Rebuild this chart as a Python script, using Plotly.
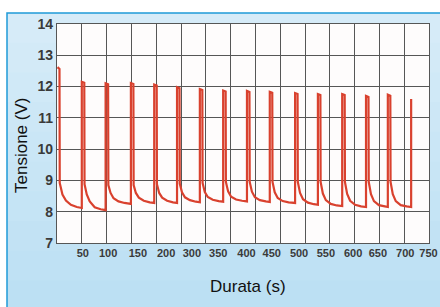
import plotly.graph_objects as go

# ---- data ----
time_s = [
    1, 5, 5.5, 11, 18, 28, 40,
    50, 50, 55, 55.5, 60, 66, 76, 88,
    98, 98, 103, 103.5, 108, 114, 124, 136,
    149, 149, 154, 154.5, 159, 165, 175, 187,
    196, 196, 201, 201.5, 206, 212, 222, 234,
    242, 242, 247, 247.5, 252, 258, 268, 280,
    288, 288, 293, 293.5, 298, 304, 314, 326,
    335, 335, 340, 340.5, 345, 351, 361, 373,
    383, 383, 388, 388.5, 393, 399, 409, 421,
    429, 429, 434, 434.5, 439, 445, 455, 467,
    480, 480, 485, 485.5, 490, 496, 506, 518,
    526, 526, 531, 531.5, 536, 542, 552, 564,
    575, 575, 580, 580.5, 585, 591, 601, 613,
    623, 623, 628, 628.5, 633, 639, 649, 661,
    667, 667, 672, 672.5, 677, 683, 693, 705,
    714, 714,
]
voltage_v = [
    12.62, 12.56, 8.92, 8.55, 8.36, 8.22, 8.15,
    8.12, 12.15, 12.12, 8.88, 8.55, 8.33, 8.14, 8.08,
    8.05, 12.10, 12.07, 8.85, 8.60, 8.43, 8.33, 8.28,
    8.25, 12.11, 12.08, 8.85, 8.60, 8.45, 8.35, 8.30,
    8.28, 12.06, 12.03, 8.88, 8.60, 8.45, 8.35, 8.30,
    8.28, 11.98, 11.95, 8.90, 8.62, 8.46, 8.37, 8.32,
    8.30, 11.92, 11.89, 8.92, 8.63, 8.47, 8.38, 8.34,
    8.32, 11.87, 11.84, 8.95, 8.65, 8.48, 8.39, 8.35,
    8.33, 11.86, 11.83, 8.95, 8.64, 8.46, 8.37, 8.33,
    8.31, 11.83, 11.80, 8.95, 8.62, 8.44, 8.34, 8.30,
    8.28, 11.79, 11.76, 8.95, 8.60, 8.40, 8.29, 8.24,
    8.22, 11.76, 11.73, 8.95, 8.58, 8.37, 8.25, 8.20,
    8.18, 11.76, 11.73, 8.95, 8.57, 8.35, 8.22, 8.17,
    8.15, 11.70, 11.67, 8.95, 8.56, 8.34, 8.21, 8.17,
    8.15, 11.74, 11.71, 8.95, 8.56, 8.34, 8.21, 8.17,
    8.15, 11.60,
]
x_tick_labels = ["50", "100", "150", "200", "300", "350", "400",
                 "450", "500", "550", "600", "650", "700", "750"]
x_label_pos = [52, 103, 163, 220, 272, 325, 382, 433, 488, 542, 597, 647, 702, 749]
x_grid = list(range(0, 751, 50))
y_ticks = [7, 8, 9, 10, 11, 12, 13, 14]

W, H = 440, 307
L, R, T, B = 57, 11, 24, 64
pw, ph = W - L - R, H - T - B


def px(x):
    return (x - L) / pw


def py(y):
    return (H - B - y) / ph


fig = go.Figure()
fig.add_trace(go.Scatter(
    x=time_s, y=voltage_v, mode="lines",
    line=dict(color="#d9412e", width=2.2),
    hoverinfo="skip", showlegend=False,
))

shapes = []
# gradient light-blue frame
top_c = (214, 235, 248)
bot_c = (188, 224, 243)
n = 10
y_top, y_bot = 13, 310
for i in range(n):
    f = i / (n - 1)
    c = tuple(round(top_c[k] + (bot_c[k] - top_c[k]) * f) for k in range(3))
    ya = y_top + (y_bot - y_top) * i / n
    yb = y_top + (y_bot - y_top) * (i + 1) / n
    shapes.append(dict(type="rect", xref="paper", yref="paper", layer="below",
                       x0=px(7), x1=px(445), y0=py(yb + 1), y1=py(ya),
                       line=dict(width=0), fillcolor="rgb(%d,%d,%d)" % c))
# blue border
shapes.append(dict(type="rect", xref="paper", yref="paper", layer="below",
                   x0=px(7), x1=px(445), y0=py(312), y1=py(13),
                   line=dict(color="#1f9bd7", width=1.5), fillcolor="rgba(0,0,0,0)"))
# white plot area
shapes.append(dict(type="rect", xref="paper", yref="paper", layer="below",
                   x0=0, x1=1, y0=0, y1=1, line=dict(width=0), fillcolor="#fefcfc"))

grid_c = "#565656"
tick_font_x = dict(family="Liberation Sans Narrow, Liberation Sans, Arial, sans-serif",
                   size=11, color="#3a3a3a", weight="bold")
tick_font_y = dict(family="Liberation Sans, Arial, sans-serif", size=14, color="#3a3a3a", weight="bold")

fig.update_layout(
    width=W, height=H,
    margin=dict(l=L, r=R, t=T, b=B, pad=0, autoexpand=False),
    paper_bgcolor="white",
    plot_bgcolor="rgba(0,0,0,0)",
    shapes=shapes,
    xaxis=dict(
        range=[0, 750], tickmode="array", tickvals=x_label_pos, ticktext=x_tick_labels,
        tickangle=0, automargin=False,
        showgrid=False, zeroline=False, ticks="", tickfont=tick_font_x,
        showline=True, mirror=True, linecolor=grid_c, linewidth=1.3,
        minor=dict(tickmode="array", tickvals=x_grid, showgrid=True,
                   gridcolor=grid_c, gridwidth=1.3, ticks=""),
    ),
    yaxis=dict(
        range=[7, 14], tickmode="array", tickvals=y_ticks, automargin=False,
        showgrid=True, gridcolor=grid_c, gridwidth=1.3, zeroline=False, ticks="",
        tickfont=tick_font_y, showline=True, mirror=True, linecolor=grid_c, linewidth=1.3,
    ),
    annotations=[
        dict(text="Tensione (V)", xref="paper", yref="paper", x=px(21), y=py(146),
             textangle=-90, showarrow=False, xanchor="center", yanchor="middle",
             font=dict(family="Liberation Sans, Arial, sans-serif", size=17, color="#111")),
        dict(text="Durata (s)", xref="paper", yref="paper", x=px(248), y=py(286),
             showarrow=False, xanchor="center", yanchor="middle",
             font=dict(family="Liberation Sans, Arial, sans-serif", size=17, color="#111")),
    ],
)

fig.write_html("out.html", config={"displayModeBar": False},
               post_script="document.body.style.margin='0';document.body.style.overflow='hidden';")
